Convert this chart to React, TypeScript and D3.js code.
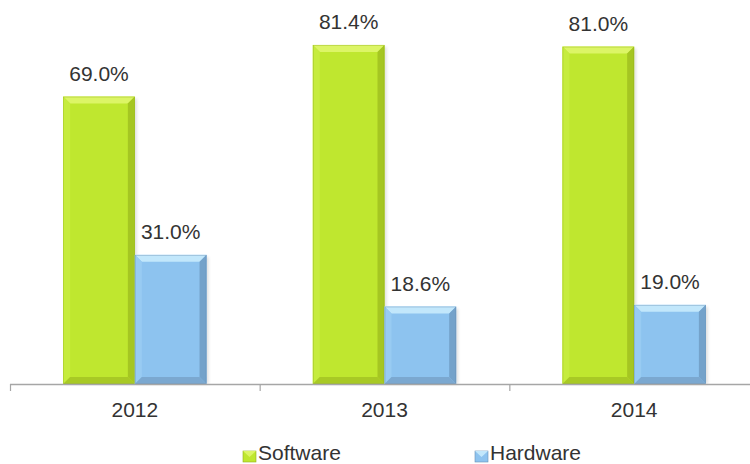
import React from "react";
import * as d3 from "d3";

const categories = ["2012", "2013", "2014"];
const seriesNames = ["Software", "Hardware"];
const software = [69.0, 81.4, 81.0];
const hardware = [31.0, 18.6, 19.0];
const seriesValues = [software, hardware];

const W = 750;
const H = 464;
const baseY = 384;

const palettes = [
  { main: "#BFE72F", top: "#DCF566", left: "#C6EC3E", right: "#A5C622", bottom: "#A8C925", edge: "#93AF1C" },
  { main: "#8DC3EF", top: "#C2E7FB", left: "#98CBF2", right: "#74A2CA", bottom: "#7BA8D0", edge: "#6890B4" },
];

function Bar({ x, y, w, h, p }: { x: number; y: number; w: number; h: number; p: any }) {
  const b = Math.min(7, h / 2);
  const pts = (a: number[][]) => a.map((q) => q.join(",")).join(" ");
  return (
    <g>
      <rect x={x + 2} y={y + 2} width={w} height={h - 2} fill="#000" opacity={0.12} filter="url(#blur)" />
      <rect x={x} y={y} width={w} height={h} fill={p.main} />
      <polygon points={pts([[x, y], [x + w, y], [x + w - b, y + b], [x + b, y + b]])} fill={p.top} />
      <polygon points={pts([[x, y], [x + b, y + b], [x + b, y + h - b], [x, y + h]])} fill={p.left} />
      <polygon points={pts([[x + w, y], [x + w - b, y + b], [x + w - b, y + h - b], [x + w, y + h]])} fill={p.right} />
      <polygon points={pts([[x, y + h], [x + b, y + h - b], [x + w - b, y + h - b], [x + w, y + h]])} fill={p.bottom} />
      <rect x={x + 0.5} y={y + 0.5} width={w - 1} height={h - 1} fill="none" stroke={p.edge} strokeWidth={0.6} opacity={0.6} />
    </g>
  );
}

export default function App() {
  const x0 = d3.scaleBand<string>().domain(categories).range([10, 759]).paddingInner(0).paddingOuter(0);
  const x1 = d3
    .scaleBand<string>()
    .domain(seriesNames)
    .range([0, x0.bandwidth()])
    .paddingInner(0)
    .paddingOuter(0.741);
  const y = d3.scaleLinear().domain([0, 90]).range([baseY, baseY - 374.9]);
  const ticks = [...categories.map((c) => x0(c) as number), 759];
  const font = "'Liberation Sans', Arial, sans-serif";

  return (
    <svg
      width={W}
      height={H}
      style={{ position: "absolute", left: 0, top: 0, background: "#fff" }}
      fontFamily={font}
    >
      <defs>
        <filter id="blur" x="-20%" y="-20%" width="140%" height="140%">
          <feGaussianBlur stdDeviation="1.5" />
        </filter>
      </defs>
      <rect width={W} height={H} fill="#fff" />
      {categories.map((c, ci) =>
        seriesNames.map((s, si) => {
          const v = seriesValues[si][ci];
          const bx = (x0(c) as number) + (x1(s) as number);
          const by = y(v);
          return (
            <g key={c + s}>
              <Bar x={bx} y={by} w={x1.bandwidth()} h={baseY - by} p={palettes[si]} />
              <text
                x={bx + x1.bandwidth() / 2}
                y={by - 16}
                textAnchor="middle"
                fontSize={21}
                fill="#333"
              >
                {v.toFixed(1) + "%"}
              </text>
            </g>
          );
        })
      )}
      <line x1={10} x2={750} y1={baseY + 0.5} y2={baseY + 0.5} stroke="#A6A6A6" strokeWidth={1.5} />
      {ticks.map((t, i) => (
        <line key={i} x1={t + 0.5} x2={t + 0.5} y1={baseY} y2={baseY + 7} stroke="#A6A6A6" strokeWidth={1.2} />
      ))}
      {categories.map((c) => (
        <text
          key={c}
          x={(x0(c) as number) + x0.bandwidth() / 2}
          y={417}
          textAnchor="middle"
          fontSize={21}
          fill="#333"
        >
          {c}
        </text>
      ))}
      {seriesNames.map((s, si) => {
        const lx = si === 0 ? 243 : 475;
        return (
          <g key={s}>
            <rect x={lx} y={451} width={13} height={11} fill={palettes[si].main} stroke={palettes[si].edge} strokeWidth={0.6} />
            <polygon
              points={`${lx},451 ${lx + 13},451 ${lx + 6.5},457`}
              fill={palettes[si].top}
            />
            <text x={lx + 15} y={460} fontSize={21} fill="#333">
              {s}
            </text>
          </g>
        );
      })}
    </svg>
  );
}
